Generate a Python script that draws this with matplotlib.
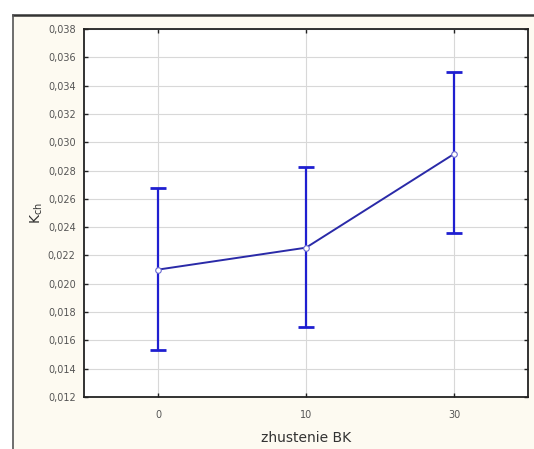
import numpy as np
import matplotlib
matplotlib.use("Agg")
import matplotlib.pyplot as plt
from matplotlib.patches import Rectangle
from matplotlib.lines import Line2D
from matplotlib.ticker import FuncFormatter

# data
categories = ["0", "10", "30"]
means = [0.0210, 0.02255, 0.02917]
upper = [0.02677, 0.02825, 0.03497]
lower = [0.01532, 0.01695, 0.02359]

BLUE = "#1f1fd0"
LINE = "#2a2aa8"
BG = "#fdfaf1"

fig = plt.figure(figsize=(5.34, 4.49), dpi=100)
fig.patch.set_facecolor("white")

# cream panel with dark top/left border (drawn behind the axes)
fig.patches.append(Rectangle((13 / 534, 0), 1, 1 - 15 / 449, transform=fig.transFigure,
                             facecolor=BG, edgecolor="none", zorder=-5))
fig.lines.append(Line2D([13 / 534, 1], [1 - 15 / 449] * 2, transform=fig.transFigure,
                        color="#333333", lw=1.8, zorder=-4))
fig.lines.append(Line2D([13 / 534] * 2, [0, 1 - 15 / 449], transform=fig.transFigure,
                        color="#555555", lw=1.2, zorder=-4))

ax = fig.add_axes([84 / 534, 1 - 397 / 449, (528 - 84) / 534, (397 - 29) / 449])
ax.set_facecolor("white")

x = np.arange(len(categories))
m = np.array(means)
yerr = [m - np.array(lower), np.array(upper) - m]
ax.errorbar(x, m, yerr=yerr, fmt="none", ecolor=BLUE, elinewidth=1.6,
            capsize=6, capthick=2.0, zorder=3)
ax.plot(x, m, color=LINE, lw=1.4, marker="o", ms=4, mfc="white",
        mec="#6a6ad0", mew=0.8, zorder=4)

ax.set_xlim(-0.5, 2.5)
ax.set_ylim(0.012, 0.038)
ax.set_xticks(x)
ax.set_xticklabels(categories)
ax.set_yticks(np.arange(0.012, 0.0381, 0.002))
ax.yaxis.set_major_formatter(FuncFormatter(lambda v, p: f"{v:.3f}".replace(".", ",")))

ax.grid(True, color="#d8d8d8", lw=0.8)
ax.set_axisbelow(True)
for s in ax.spines.values():
    s.set_color("#222222")
    s.set_linewidth(1.3)

ax.tick_params(direction="in", length=3, width=1, color="#222222",
               labelsize=7, labelcolor="#555555", top=True, right=True, pad=6)
ax.tick_params(axis="x", pad=9)

ax.set_xlabel("zhustenie BK", fontsize=10, color="#333333", labelpad=8)
ax.set_ylabel(r"K$_{\mathregular{ch}}$", fontsize=10, color="#333333", labelpad=2)

fig.savefig("out.png", dpi=100, facecolor=fig.get_facecolor())
